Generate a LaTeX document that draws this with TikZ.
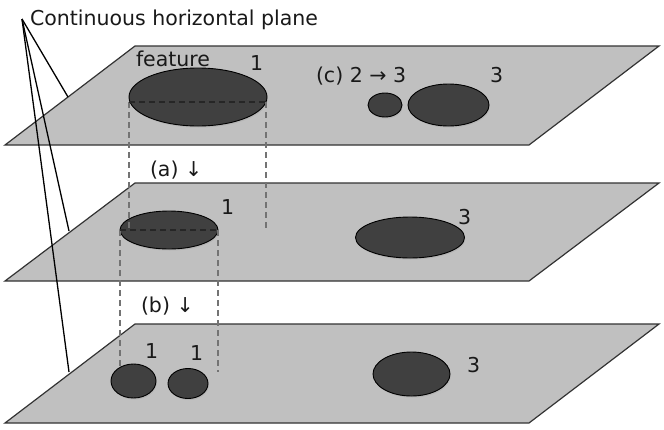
\documentclass[tikz,border=0pt]{standalone}
\usepackage{fontspec}
\setmainfont{DejaVu Sans}
\usetikzlibrary{shapes.geometric,shadows}
\definecolor{planefill}{HTML}{C0C0C0}
\definecolor{featfill}{HTML}{404040}
\begin{document}
\begin{tikzpicture}[x=1pt,y=-1pt,
 plane/.style={fill=planefill, draw=black!80, line width=1.2pt, line join=miter},
 feat/.style={ellipse, fill=featfill, draw=black, line width=0.9pt, inner sep=0pt, outer sep=0pt,
   drop shadow={opacity=0.2, shadow xshift=0.8pt, shadow yshift=-1.5pt}},
 lbl/.style={anchor=base west, inner sep=0pt, outer sep=0pt, font=\fontsize{20.5}{24}\selectfont, text=black!90},
 proj/.style={draw=black!55, dash pattern=on 6pt off 4pt, line width=1.3pt},
 projdark/.style={proj, draw=black!85},
 leader/.style={draw=black, line width=1.3pt}]
\useasboundingbox (0,0) rectangle (664,429);

% planes
\draw[plane] (5,145) -- (529,145) -- (659,46) -- (135,46) -- cycle;
\draw[plane] (5,281) -- (529,281) -- (659,183) -- (135,183) -- cycle;
\draw[plane] (5,423) -- (529,423) -- (659,324) -- (135,324) -- cycle;

% features, top plane
\node[feat, minimum width=138pt, minimum height=58pt] (t1) at (198,97) {};
\node[feat, minimum width=34pt, minimum height=24pt] (t2) at (385,105) {};
\node[feat, minimum width=81pt, minimum height=42pt] (t3) at (448.5,105) {};
% middle plane
\node[feat, minimum width=98pt, minimum height=38pt] (m1) at (169,230) {};
\node[feat, minimum width=109pt, minimum height=41pt] (m3) at (410,237.5) {};

% projection lines
\coordinate (aL) at (129,102);
\coordinate (aR) at (266,102);
\coordinate (aL2) at (129,230);
\coordinate (aR2) at (266,230);
\coordinate (bL) at (120,230);
\coordinate (bR) at (218,230);
\coordinate (bL2) at (120,367);
\coordinate (bR2) at (218,372);
\draw[proj] (aL) -- (aL2);
\draw[proj] (aR) -- (aR2);
\draw[proj] (bL) -- (bL2);
\draw[proj] (bR) -- (bR2);
\draw[projdark] (aL) -- (aR);
\draw[projdark] (bL) -- (bR);

% bottom plane
\node[feat, minimum width=45pt, minimum height=34pt] (b1) at (133.5,381) {};
\node[feat, minimum width=40pt, minimum height=30pt] (b2) at (188,383.5) {};
\node[feat, minimum width=77pt, minimum height=44pt] (b3) at (411.5,374) {};

% leaders
\coordinate (o) at (22,19);
\coordinate (p1) at (68,97);
\coordinate (p2) at (69,231);
\coordinate (p3) at (69,372);
\draw[leader] (o) -- (p1);
\draw[leader] (o) -- (p2);
\draw[leader] (o) -- (p3);

% labels
\node[lbl] (title) at (30,25) {Continuous horizontal plane};
\node[lbl] (feat) at (136,66) {feature};
\node[lbl] (l1) at (250,70) {1};
\node[lbl] (lc) at (316,82) {(c) 2 → 3};
\node[lbl] (l3t) at (490,82) {3};
\node[lbl] (la) at (150,176) {(a) ↓};
\node[lbl] (l1m) at (221,214) {1};
\node[lbl] (l3m) at (458,224) {3};
\node[lbl] (lb) at (141,312) {(b) ↓};
\node[lbl] (l1b) at (145,358) {1};
\node[lbl] (l1c) at (190,360) {1};
\node[lbl] (l3b) at (467,372) {3};
\end{tikzpicture}
\end{document}
